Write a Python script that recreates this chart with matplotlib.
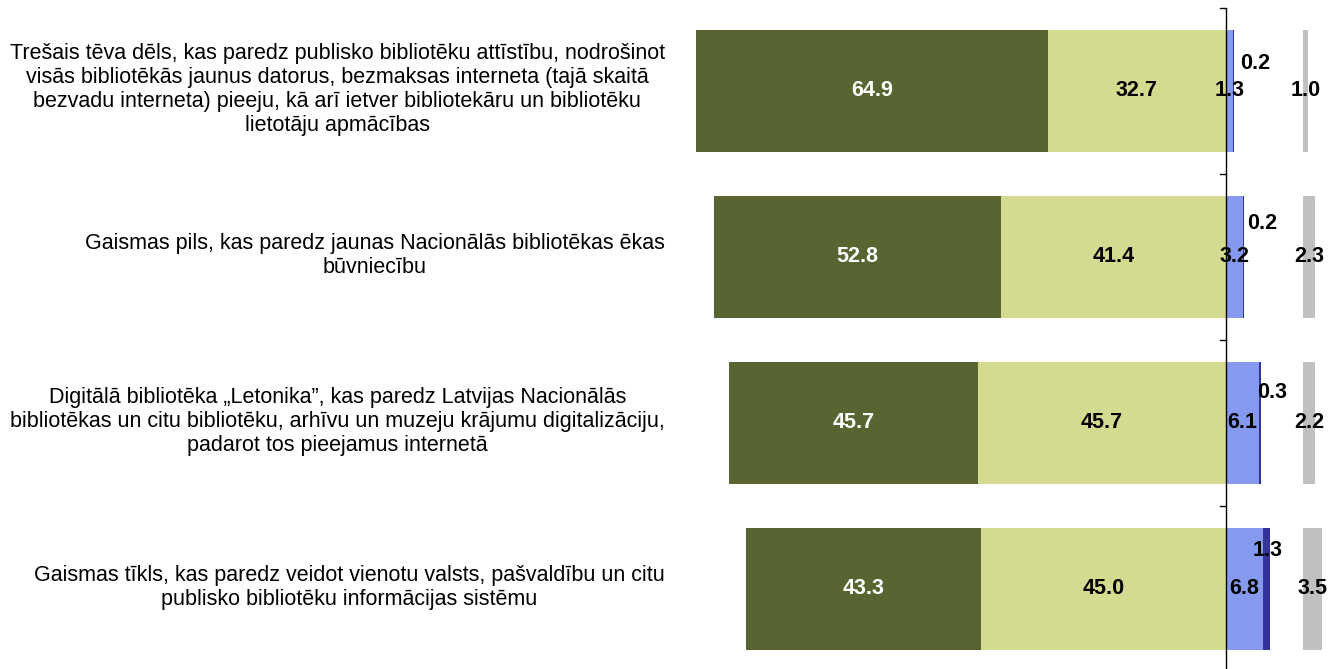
import numpy as np
import matplotlib
matplotlib.use('Agg')
import matplotlib.pyplot as plt
import matplotlib.transforms as mtransforms

plt.rcParams['font.family'] = ['Liberation Sans', 'DejaVu Sans']

categories = [
    "Trešais tēva dēls, kas paredz publisko bibliotēku attīstību, nodrošinot\n"
    "visās bibliotēkās jaunus datorus, bezmaksas interneta (tajā skaitā\n"
    "bezvadu interneta) pieeju, kā arī ietver bibliotekāru un bibliotēku\n"
    "lietotāju apmācības",
    "Gaismas pils, kas paredz jaunas Nacionālās bibliotēkas ēkas\nbūvniecību",
    "Digitālā bibliotēka „Letonika”, kas paredz Latvijas Nacionālās\n"
    "bibliotēkas un citu bibliotēku, arhīvu un muzeju krājumu digitalizāciju,\n"
    "padarot tos pieejamus internetā",
    "Gaismas tīkls, kas paredz veidot vienotu valsts, pašvaldību un citu\n"
    "publisko bibliotēku informācijas sistēmu",
]
very_pos = [64.9, 52.8, 45.7, 43.3]
rather_pos = [32.7, 41.4, 45.7, 45.0]
rather_neg = [1.3, 3.2, 6.1, 6.8]
very_neg = [0.2, 0.2, 0.3, 1.3]
dont_know = [1.0, 2.3, 2.2, 3.5]

c_dark = '#586530'
c_light = '#D4DA8F'
c_blue = '#8599EE'
c_navy = '#333399'
c_grey = '#C0C0C0'

# label offsets (points) for the small navy segment labels
navy_dx = [16, 13, 9, 1]
navy_dy = [20, 24, 22, 28]

fs = 15.5
fig = plt.figure(figsize=(13.42, 6.69), dpi=100)
ax = fig.add_axes([680 / 1342, -3 / 669, 662 / 1342, 664 / 669])

y = np.arange(len(categories))
h = 0.74
vp = np.array(very_pos)
rp = np.array(rather_pos)
rn = np.array(rather_neg)
vn = np.array(very_neg)
dk = np.array(dont_know)

ax.barh(y, -rp, height=h, color=c_light)
ax.barh(y, -vp, left=-rp, height=h, color=c_dark)
ax.barh(y, rn, height=h, color=c_blue)
ax.barh(y, vn, left=rn, height=h, color=c_navy)
gap = 14.2
ax.barh(y, dk, left=gap, height=h, color=c_grey)

for i in range(len(y)):
    ax.text(-rp[i] - vp[i] / 2, y[i], f'{vp[i]:.1f}', color='white', fontsize=fs,
            fontweight='bold', ha='center', va='center')
    ax.text(-rp[i] / 2, y[i], f'{rp[i]:.1f}', color='black', fontsize=fs,
            fontweight='bold', ha='center', va='center')
    ax.text(rn[i] / 2, y[i], f'{rn[i]:.1f}', color='black', fontsize=fs,
            fontweight='bold', ha='center', va='center')
    ax.annotate(f'{vn[i]:.1f}', (rn[i] + vn[i] / 2, y[i]), xytext=(navy_dx[i], navy_dy[i]),
                textcoords='offset points', color='black', fontsize=fs,
                fontweight='bold', ha='center', va='center')
    ax.text(gap + dk[i] / 2, y[i], f'{dk[i]:.1f}', color='black', fontsize=fs,
            fontweight='bold', ha='center', va='center')

ax.set_xlim(-100.5, 21.4)
ax.set_ylim(len(y) - 0.5, -0.5)

# central axis with ticks at category boundaries
ax.axvline(0, color='black', lw=1)
for b in np.arange(len(y) + 1) - 0.5:
    ax.plot([-1.1, 0], [b, b], color='black', lw=1, clip_on=False)

ax.set_yticks(y)
ax.set_yticklabels(categories, fontsize=fs, multialignment='center', linespacing=1.18)
ax.tick_params(axis='y', length=0, pad=11)
# nudge category labels up a little
shift = mtransforms.ScaledTranslation(0, 4 / 72, fig.dpi_scale_trans)
for lbl in ax.get_yticklabels():
    lbl.set_transform(lbl.get_transform() + shift)
ax.set_xticks([])
for s in ax.spines.values():
    s.set_visible(False)

fig.savefig('out.png', dpi=100)
